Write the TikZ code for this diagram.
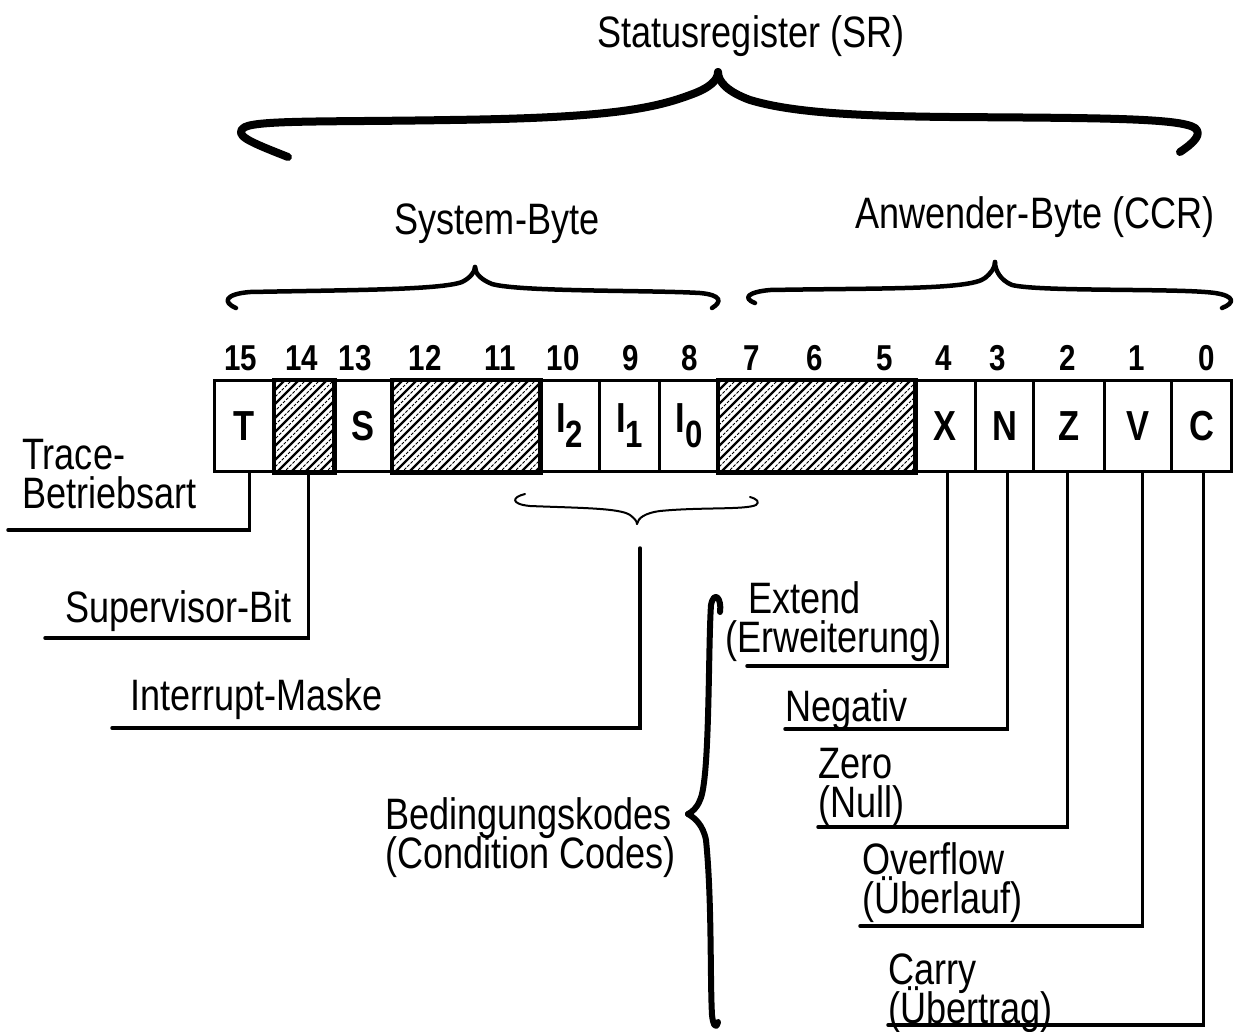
\documentclass[tikz,border=0pt]{standalone}
\usepackage{fontspec}
\setmainfont{Liberation Sans}[FakeStretch=0.82]
\newcommand\mytightlines{\lineskiplimit=-100pt\relax\lineskip=0pt\relax}
\begin{document}
\begin{tikzpicture}[x=1pt,y=-1pt,
  lbl/.style={font={\fontsize{44}{39}\selectfont\mytightlines}, inner sep=0pt, anchor=base west, align=left},
  ttl/.style={font=\fontsize{44}{48}\selectfont, inner sep=0pt, anchor=base},
  num/.style={font=\bfseries\fontsize{36}{40}\selectfont, inner sep=0pt, anchor=base},
  cell/.style={draw, line width=3pt, minimum height=91pt, inner sep=0pt, anchor=north west, font=\bfseries\fontsize{42}{44}\selectfont},
  leader/.style={line width=3.5pt, line cap=round},
  bigbrace/.style={line width=8pt, line cap=round, line join=round},
  midbrace/.style={line width=4.5pt, line cap=round, line join=round},
  thinbrace/.style={line width=2pt, line cap=round, line join=round},
  hatchthick/.style={line width=2.2pt},
  hatchthin/.style={line width=0.9pt, dash pattern=on 3pt off 1.5pt}
]
\useasboundingbox (0,0) rectangle (1242,1031);
\fill[white] (0,0) rectangle (1242,1031);

% titles
\node[ttl] (tsr) at (751,47) {Statusregister (SR)};
\node[ttl] (tsys) at (497,234) {System-Byte};
\node[ttl] (tanw) at (1035,228) {Anwender-Byte (CCR)};

% big brace SR
\draw[bigbrace] (288,157) .. controls (250,142) and (232,135) .. (245,127) .. controls (260,120) and (330,122) .. (450,120) .. controls (600,118) and (650,110) .. (690,95) .. controls (710,88) and (718,80) .. (718,72);
\draw[bigbrace] (718,72) .. controls (718,82) and (728,92) .. (750,100) .. controls (790,112) and (850,116) .. (950,117) .. controls (1100,118) and (1180,118) .. (1195,128) .. controls (1202,134) and (1195,142) .. (1180,152);

% system byte brace
\draw[midbrace] (236,308) .. controls (222,302) and (225,294) .. (250,292) .. controls (350,290) and (440,290) .. (462,282) .. controls (470,278) and (475,272) .. (475,267);
\draw[midbrace] (475,267) .. controls (475,274) and (482,280) .. (492,284) .. controls (520,292) and (650,290) .. (700,293) .. controls (722,295) and (722,302) .. (712,308);

% anwender byte brace
\draw[midbrace] (755,303) .. controls (742,298) and (748,292) .. (770,290) .. controls (880,288) and (970,290) .. (985,278) .. controls (991,273) and (995,268) .. (995,262);
\draw[midbrace] (995,262) .. controls (995,270) and (1000,280) .. (1012,285) .. controls (1040,292) and (1180,288) .. (1215,293) .. controls (1235,296) and (1235,303) .. (1222,308);

% bit numbers
\foreach \n/\x in {15/241,14/302,13/355,12/425,11/500,10/563,9/631,8/690,7/752,6/815,5/885,4/944,3/998,2/1068,1/1137,0/1207}
  \node[num] (b\n) at (\x,370) {\n};

% cells
\node[cell, minimum width=60pt] (c15) at (213,379) {T};
\node[cell, minimum width=59pt] (c14) at (273,379) {};
\node[cell, minimum width=59pt] (c13) at (332,379) {S};
\node[cell, minimum width=147pt] (c12) at (391,379) {};
\node[cell, minimum width=60pt] (c10) at (538,379) {I\raisebox{-15pt}{\fontsize{38}{38}\selectfont 2}};
\node[cell, minimum width=60pt] (c9) at (598,379) {I\raisebox{-15pt}{\fontsize{38}{38}\selectfont 1}};
\node[cell, minimum width=59pt] (c8) at (658,379) {I\raisebox{-15pt}{\fontsize{38}{38}\selectfont 0}};
\node[cell, minimum width=196pt] (c7) at (717,379) {};
\node[cell, minimum width=61pt] (c4) at (913,379) {X};
\node[cell, minimum width=58pt] (c3) at (974,379) {N};
\node[cell, minimum width=71pt] (c2) at (1032,379) {Z};
\node[cell, minimum width=67pt] (c1) at (1103,379) {V};
\node[cell, minimum width=60pt] (c0) at (1170,379) {C};

% hatching
\foreach \c in {c14,c12,c7}{
  \begin{scope}
    \clip (\c.south west) rectangle (\c.north east);
    \foreach \k in {0,...,22}{
      \draw[hatchthick] ([xshift={\k*14-95}]\c.south west) -- ++(95,-95);
      \draw[hatchthin] ([xshift={\k*14-88}]\c.south west) -- ++(95,-95);
    }
  \end{scope}
  \draw[line width=3pt] (\c.south west) rectangle (\c.north east);
}

% small interrupt brace
\draw[thinbrace] (525,494) .. controls (512,497) and (510,504) .. (530,506) .. controls (580,508) and (620,508) .. (630,515) .. controls (634,518) and (637,521) .. (637,524);
\draw[thinbrace] (637,524) .. controls (638,518) and (645,513) .. (660,511) .. controls (700,507) and (745,510) .. (756,505) .. controls (760,502) and (757,499) .. (750,497);

% condition codes brace
\draw[line width=6pt, line cap=round, line join=round] (720,612) .. controls (722,598) and (714,590) .. (711,605) .. controls (708,650) and (710,780) .. (700,800) .. controls (697,808) and (692,812) .. (688,814);
\draw[line width=6pt, line cap=round, line join=round] (688,814) .. controls (695,818) and (703,825) .. (706,840) .. controls (712,900) and (710,980) .. (712,1015) .. controls (713,1025) and (716,1030) .. (718,1022);

% leader end points
\coordinate (eT) at (8,530);
\coordinate (eS) at (45,638);
\coordinate (im) at (640,548);
\coordinate (eI) at (112,728);
\coordinate (eX) at (747,666);
\coordinate (eN) at (785,729);
\coordinate (eZ) at (818,827);
\coordinate (eV) at (860,926);
\coordinate (eC) at (888,1025);

\draw[leader] ([xshift=5pt]c15.south) |- (eT);
\draw[leader] ([xshift=4.5pt]c14.south) |- (eS);
\draw[leader] (im) |- (eI);
\draw[leader] ([xshift=2.5pt]c4.south) |- (eX);
\draw[leader] ([xshift=3pt]c3.south) |- (eN);
\draw[leader] ([xshift=-1.5pt]c2.south) |- (eZ);
\draw[leader] ([xshift=4.5pt]c1.south) |- (eV);
\draw[leader] ([xshift=2pt]c0.south) |- (eC);

% labels (base anchor = baseline of last line)
\node[lbl] (lt) at (22,508) {Trace-\\Betriebsart};
\node[lbl] (ls) at (65,622) {Supervisor-Bit};
\node[lbl] (li) at (130,710) {Interrupt-Maske};
\node[lbl] (lx) at (725,652) {\hspace*{23pt}Extend\\(Erweiterung)};
\node[lbl] (ln) at (785,721) {Negativ};
\node[lbl] (lz) at (818,817) {Zero\\(Null)};
\node[lbl] (lv) at (862,913) {Overflow\\(Überlauf)};
\node[lbl] (lc) at (888,1023) {Carry\\(Übertrag)};
\node[lbl] (lb) at (385,868) {Bedingungskodes\\(Condition Codes)};
\end{tikzpicture}
\end{document}
